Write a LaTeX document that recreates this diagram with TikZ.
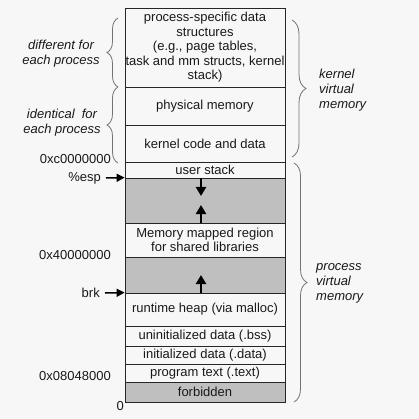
\documentclass[tikz,border=0pt]{standalone}
\usepackage{fontspec}
\setmainfont{Liberation Sans}
\usetikzlibrary{arrows.meta,decorations.pathreplacing}
\begin{document}
\begin{tikzpicture}[x=1pt,y=-1pt,
 box/.style={draw=black!85, line width=0.8pt, minimum width=160pt, inner sep=0pt, align=center, text=black!90, font=\fontsize{13}{14.5}\selectfont},
 graybox/.style={box, fill=black!25},
 lbl/.style={text=black!90, font=\fontsize{13}{14.5}\selectfont, inner sep=0pt},
 ilbl/.style={lbl, font=\fontsize{13}{15}\selectfont\itshape},
 ptrarrow/.style={line width=1.5pt, -{Triangle[width=8pt,length=8pt]}},
 growarrow/.style={line width=2.2pt, -{Triangle[width=10pt,length=9pt]}},
 brc/.style={draw=black!55, line width=0.8pt, decorate, decoration={brace, amplitude=#1}}]
\fill[white!97!black] (0,0) rectangle (419,419);
\useasboundingbox (0,0) rectangle (419,419);
% kernel part
\node[box, minimum height=79pt] (ps) at (205,47.5) {process-specific data\\structures\\(e.g., page tables,\\task and mm structs, kernel\\stack)};
\node[box, minimum height=38pt] (phys) at (205,106) {physical memory};
\node[box, minimum height=37pt] (kcode) at (205,143.5) {kernel code and data};
% process part
\node[box, minimum height=16pt] (ustack) at (205,170) {user stack};
\node[graybox, minimum height=45pt] (gray1) at (205,200.5) {};
\node[box, minimum height=34pt] (mmap) at (205,240) {Memory mapped region\\for shared libraries};
\node[graybox, minimum height=36pt] (gray2) at (205,275) {};
\node[box, minimum height=33pt] (heap) at (205,309.5) {runtime heap (via malloc)};
\node[box, minimum height=20pt] (bss) at (205,336) {uninitialized data (.bss)};
\node[box, minimum height=18pt] (data) at (205,355) {initialized data (.data)};
\node[box, minimum height=18pt] (text) at (205,373) {program text (.text)};
\node[graybox, minimum height=20pt] (forb) at (205,392) {forbidden};
% growth arrows
\coordinate (d1s) at (201,178.5);
\coordinate (d1e) at (201,196);
\coordinate (u1s) at (201,222.5);
\coordinate (u1e) at (201,205);
\coordinate (u2s) at (201,292.5);
\coordinate (u2e) at (201,275);
\draw[growarrow] (d1s) -- (d1e);
\draw[growarrow] (u1s) -- (u1e);
\draw[growarrow] (u2s) -- (u2e);
% left labels
\node[lbl, anchor=east] (a1) at (111,159) {0xc0000000};
\node[lbl, anchor=east] (esp) at (101,178) {\%esp};
\node[lbl, anchor=east] (a2) at (111,255) {0x40000000};
\node[lbl, anchor=east] (brk) at (100,293) {brk};
\node[lbl, anchor=east] (a3) at (111,376) {0x08048000};
\node[lbl, anchor=east] (a0) at (124,406) {0};
\draw[ptrarrow] ([xshift=5pt]esp.east) -- (gray1.north west);
\draw[ptrarrow] ([xshift=5pt]brk.east) -- (heap.north west);
% left braces
\coordinate (lb1) at (118,18);
\coordinate (lb2) at (118,87);
\coordinate (lb3) at (118,163);
\draw[brc=11pt] (lb2) -- (lb1);
\draw[brc=11pt] (lb3) -- (lb2);
\node[ilbl, align=center] (diff) at (61,54) {different for\\each process};
\node[ilbl, align=center] (ident) at (62,122.5) {identical\ \ for\\each process};
% right braces
\coordinate (rb1) at (292,20);
\coordinate (rb2) at (292,157);
\coordinate (rb3) at (294,163);
\coordinate (rb4) at (294,402);
\draw[brc=14pt] (rb1) -- (rb2);
\draw[brc=13pt] (rb3) -- (rb4);
\node[ilbl, align=left, anchor=west] (kvm) at (319,90.5) {kernel\\virtual\\memory};
\node[ilbl, align=left, anchor=west] (pvm) at (316,283) {process\\virtual\\memory};
\end{tikzpicture}
\end{document}
